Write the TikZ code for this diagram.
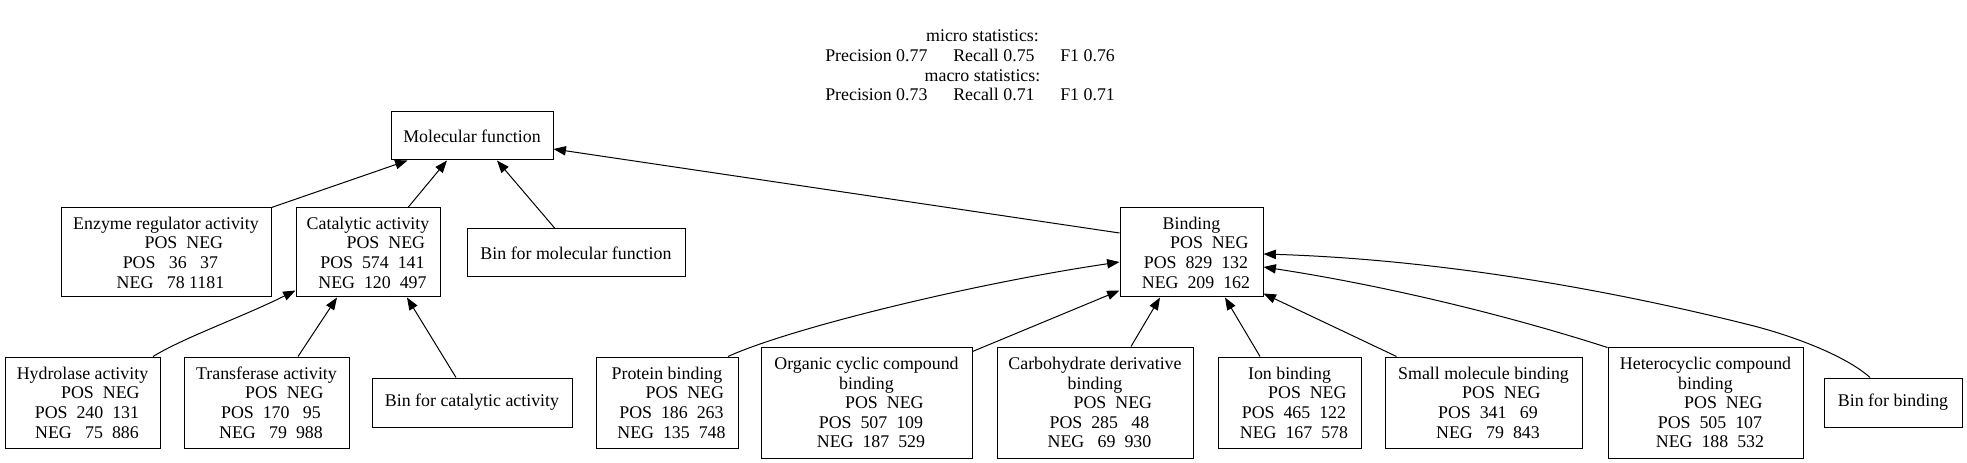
\documentclass[tikz,border=0pt]{standalone}
\usepackage{fontspec}
\setmainfont{Liberation Serif}
\usetikzlibrary{calc,arrows.meta}
\newcommand\mhdr{\hspace*{2em}POS~~NEG}
\newcommand\lp{\hspace*{0.5em}}
\begin{document}
\begin{tikzpicture}[x=0.75pt,y=-0.75pt,
  bx/.style 2 args={draw, line width=0.75pt, align=center, inner sep=0pt,
    minimum width=#1*0.75pt, minimum height=#2*0.75pt,
    font=\fontsize{13.4pt}{14.7pt}\selectfont},
  txt/.style={inner sep=0pt, font=\fontsize{13.4pt}{14.7pt}\selectfont},
  edge/.style={line width=0.75pt, -{Triangle[length=9.3pt,width=7pt]}}]
\useasboundingbox (0,0) rectangle (1967,463);

% statistics
\node[txt, anchor=base] (micro) at (982.5,42) {micro statistics:};
\node[txt, anchor=base west] (p1) at (825,62) {Precision 0.77};
\node[txt, anchor=base west] (r1) at (953,62) {Recall 0.75};
\node[txt, anchor=base west] (f1) at (1060,62) {F1 0.76};
\node[txt, anchor=base] (macro) at (982.5,81.5) {macro statistics:};
\node[txt, anchor=base west] (p2) at (825,101) {Precision 0.73};
\node[txt, anchor=base west] (r2) at (953,101) {Recall 0.71};
\node[txt, anchor=base west] (f2) at (1060,101) {F1 0.71};

% nodes
\node[bx={162}{48}] (mf) at (472,136) {Molecular function};
\node[bx={218}{48}] (binmf) at (576,253) {Bin for molecular function};
\node[bx={210}{89}] (enz) at (166,252.5) {Enzyme regulator activity\\ \mhdr\\ \lp POS~~~36~~~37\\ \lp NEG~~~78~1181};
\node[bx={144}{89}] (cat) at (368,252.5) {Catalytic activity\\ \mhdr\\ \lp POS~~574~~141\\ \lp NEG~~120~~497};
\node[bx={143}{89}] (bind) at (1191.5,252.5) {Binding\\ \mhdr\\ \lp POS~~829~~132\\ \lp NEG~~209~~162};

\node[bx={155}{91}] (hyd) at (82.5,402.5) {Hydrolase activity\\ \mhdr\\ \lp POS~~240~~131\\ \lp NEG~~~75~~886};
\node[bx={165}{91}] (tra) at (266.5,402.5) {Transferase activity\\ \mhdr\\ \lp POS~~170~~~95\\ \lp NEG~~~79~~988};
\node[bx={200}{49}] (bincat) at (472,402.5) {Bin for catalytic activity};
\node[bx={142}{91}] (prot) at (667,402.5) {Protein binding\\ \mhdr\\ \lp POS~~186~~263\\ \lp NEG~~135~~748};
\node[bx={211}{111}] (org) at (866.5,402.5) {Organic cyclic compound\\ binding\\ \mhdr\\ \lp POS~~507~~109\\ \lp NEG~~187~~529};
\node[bx={196}{111}] (carb) at (1095,402.5) {Carbohydrate derivative\\ binding\\ \mhdr\\ \lp POS~~285~~~48\\ \lp NEG~~~69~~930};
\node[bx={143}{91}] (ion) at (1289.5,402.5) {Ion binding\\ \mhdr\\ \lp POS~~465~~122\\ \lp NEG~~167~~578};
\node[bx={197}{91}] (small) at (1483.5,402.5) {Small molecule binding\\ \mhdr\\ \lp POS~~341~~~69\\ \lp NEG~~~79~~843};
\node[bx={195}{111}] (het) at (1705.5,402.5) {Heterocyclic compound\\ binding\\ \mhdr\\ \lp POS~~505~~107\\ \lp NEG~~188~~532};
\node[bx={138}{49}] (binb) at (1893,402.5) {Bin for binding};

% edges
\draw[edge] (enz.north east) -- ($(mf.south west)+(17,0)$);
\draw[edge] ($(cat.north)+(40,0)$) -- ($(mf.south)+(-25,0)$);
\draw[edge] ($(binmf.north)+(-21,0)$) -- ($(mf.south)+(25,0)$);
\draw[edge] ($(bind.west)+(0,-19.5)$) -- ($(mf.east)+(0,13)$);

\draw[edge] ($(hyd.north)+(70.5,0)$) .. controls (185,337) and (240,318) .. ($(cat.south west)+(0,-7)$);
\draw[edge] ($(tra.north)+(31.5,0)$) -- ($(cat.south)+(-31,0)$);
\draw[edge] ($(bincat.north)+(-16,0)$) -- ($(cat.south)+(39,0)$);

\draw[edge] ($(prot.north)+(61,0)$) .. controls (788,329) and (970,284) .. ($(bind.west)+(0,9.5)$);
\draw[edge] ($(org.north east)+(0,5)$) -- ($(bind.south west)+(0,-7)$);
\draw[edge] ($(carb.north)+(36,0)$) -- ($(bind.south)+(-31.5,0)$);
\draw[edge] ($(ion.north)+(-29.5,0)$) -- ($(bind.south)+(33.5,0)$);
\draw[edge] ($(small.north west)+(12,0)$) -- ($(bind.south east)+(0,-4)$);
\draw[edge] ($(het.north west)+(0,1)$) .. controls (1497,312) and (1375,284) .. ($(bind.east)+(0,14.5)$);
\draw[edge] ($(binb.north)+(-23,0)$) .. controls (1845,355) and (1790,335) .. (1750,325) .. controls (1590,285) and (1425,259) .. ($(bind.east)+(0,1.5)$);
\end{tikzpicture}
\end{document}
